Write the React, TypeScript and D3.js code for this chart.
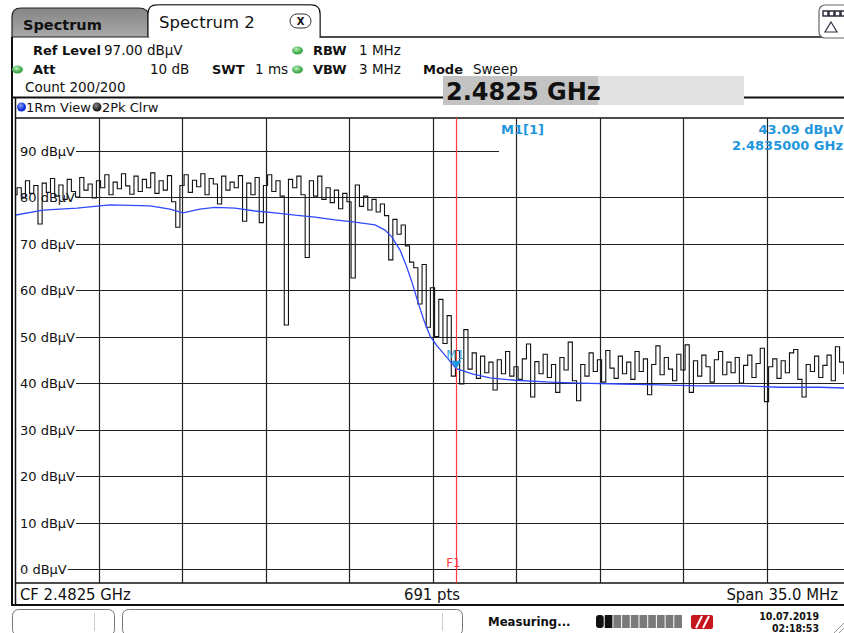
import { useEffect, useRef } from 'react';
import * as d3 from 'd3';

const WIDTH = 844;
const HEIGHT = 633;

// sweep settings (MHz / dBµV)
const startMHz = 2465;
const stopMHz = 2500;
const refLevel = 97;
const bottomLevel = -3;

const levelTicks = [90, 80, 70, 60, 50, 40, 30, 20, 10, 0];
const freqGrid = [2468.5, 2472, 2475.5, 2479, 2482.5, 2486, 2489.5, 2493, 2496.5];

// Trace 1 (RMS average, View) - blue
const rmsFreq = [
  2465.0, 2466.17, 2467.6, 2468.98, 2470.66, 2471.5, 2472.04, 2472.75, 2473.38, 2474.22,
  2475.06, 2475.9, 2476.74, 2477.58, 2478.41, 2479.25, 2480.09, 2480.51, 2480.8, 2481.14,
  2481.39, 2481.64, 2481.89, 2482.14, 2482.4, 2482.69, 2483.02, 2483.5, 2484.2, 2484.91,
  2485.96, 2487.43, 2488.68, 2490.36, 2492.04, 2493.71, 2495.39, 2497.07, 2498.74, 2500.0,
];
const rmsLevel = [
  76.1, 77.2, 77.6, 78.3, 78.1, 77.4, 76.6, 77.4, 77.8, 77.6,
  77.0, 76.6, 76.1, 75.7, 75.1, 74.6, 74.0, 72.9, 71.4, 68.6,
  65.4, 61.7, 57.4, 53.5, 50.1, 48.0, 46.0, 43.09, 41.9, 41.1,
  40.6, 40.2, 40.0, 39.8, 39.6, 39.4, 39.4, 39.1, 39.1, 38.9,
];

// Trace 2 (Max peak, Clear/Write) - black, evenly spaced over the span
const peakLevel = [
  80.5, 82.0, 79.8, 83.5, 80.8, 82.5, 74.2, 83.0, 81.0, 84.0,
  80.2, 82.6, 79.5, 83.8, 81.2, 80.0, 84.2, 81.5, 82.8, 79.8,
  83.5, 82.0, 84.8, 80.5, 83.2, 81.8, 85.0, 82.4, 80.6, 84.5,
  81.2, 83.8, 82.0, 85.2, 80.8, 83.5, 81.5, 84.6, 79.0, 73.5,
  82.5, 84.8, 81.0, 83.6, 82.2, 85.0, 80.5, 84.0, 82.8, 78.5,
  84.5, 81.5, 83.2, 82.0, 84.6, 74.8, 83.0, 80.5, 84.2, 74.5,
  82.5, 84.8, 81.2, 83.5, 80.2, 52.5, 83.8, 82.0, 84.5, 80.5,
  67.0, 83.5, 80.2, 84.5, 79.5, 82.0, 78.8, 81.5, 77.5, 80.8,
  79.0, 62.6, 82.6, 78.0, 80.2, 77.2, 79.5, 76.8, 78.5, 76.0,
  66.5, 75.2, 72.0, 74.0, 69.5, 66.0, 64.8, 57.0, 65.5, 52.0,
  60.5, 50.0, 58.0, 48.5, 54.5, 41.5, 47.0, 39.8, 51.5, 43.0,
  46.5, 41.0, 45.8, 42.2, 44.5, 38.5, 45.0, 42.0, 46.8, 41.5,
  43.5, 40.8, 45.2, 48.4, 37.0, 44.6, 42.0, 46.2, 41.2, 44.0,
  38.0, 45.5, 42.8, 48.8, 40.5, 36.2, 44.0, 41.5, 46.5, 42.5,
  45.0, 40.2, 47.0, 43.2, 41.0, 45.8, 42.0, 44.5, 40.8, 46.8,
  42.5, 45.2, 37.5, 44.0, 48.0, 41.8, 45.5, 43.0, 40.5, 46.2,
  42.8, 48.2, 38.0, 44.8, 41.5, 46.0, 43.5, 40.2, 45.0, 46.8,
  41.8, 44.5, 42.2, 45.5, 40.0, 43.8, 46.0, 41.2, 44.2, 47.5,
  36.0, 43.5, 45.2, 41.0, 44.8, 42.2, 46.5, 47.2, 40.8, 37.0,
  44.0, 42.5, 45.8, 41.2, 43.8, 46.0, 40.5, 47.8, 44.5, 42.0,
  36.8,
];

// marker M1 and frequency line F1
const markerFreq = 2483.5;
const markerLevel = 43.09;
const f1Freq = 2483.5;

const FONT = '"DejaVu Sans", Verdana, sans-serif';
const COND = '"DejaVu Sans Condensed", "DejaVu Sans", sans-serif';

export default function App() {
  const svgRef = useRef<SVGSVGElement>(null);

  useEffect(() => {
    if (!svgRef.current) return;
    document.body.style.margin = '0';
    const svg = d3.select(svgRef.current);
    svg.selectAll('*').remove();

    const plot = { left: 15, right: 850, top: 118, bottom: 583 };
    const x = d3.scaleLinear().domain([startMHz, stopMHz]).range([plot.left, plot.right]);
    const y = d3.scaleLinear().domain([bottomLevel, refLevel]).range([plot.bottom, plot.top]);

    svg.append('rect').attr('width', WIDTH).attr('height', HEIGHT).attr('fill', '#fff');

    const defs = svg.append('defs');
    const tabGrad = defs.append('linearGradient').attr('id', 'tabg').attr('x1', 0).attr('x2', 0).attr('y1', 0).attr('y2', 1);
    tabGrad.append('stop').attr('offset', '0%').attr('stop-color', '#858585');
    tabGrad.append('stop').attr('offset', '100%').attr('stop-color', '#a9a9a9');
    const greenGrad = defs.append('radialGradient').attr('id', 'greeng').attr('cx', '40%').attr('cy', '35%');
    greenGrad.append('stop').attr('offset', '0%').attr('stop-color', '#b6efb6');
    greenGrad.append('stop').attr('offset', '100%').attr('stop-color', '#3fa84a');
    const blueGrad = defs.append('radialGradient').attr('id', 'blueg').attr('cx', '40%').attr('cy', '35%');
    blueGrad.append('stop').attr('offset', '0%').attr('stop-color', '#8aa0ff');
    blueGrad.append('stop').attr('offset', '100%').attr('stop-color', '#0a2bd8');
    const darkGrad = defs.append('radialGradient').attr('id', 'darkg').attr('cx', '40%').attr('cy', '35%');
    darkGrad.append('stop').attr('offset', '0%').attr('stop-color', '#888');
    darkGrad.append('stop').attr('offset', '100%').attr('stop-color', '#222');
    defs.append('clipPath').attr('id', 'plotclip')
      .append('rect')
      .attr('x', plot.left + 1).attr('y', plot.top + 1)
      .attr('width', plot.right - plot.left - 1).attr('height', plot.bottom - plot.top - 1);

    // === tabs ===
    svg.append('path')
      .attr('d', 'M12 37 L12 17 Q12 8 21 8 L139 8 Q148 8 149 16 L149 37 Z')
      .attr('fill', 'url(#tabg)').attr('stroke', '#222').attr('stroke-width', 1.2);
    svg.append('text').attr('x', 23).attr('y', 30).attr('font-family', FONT)
      .attr('font-weight', 'bold').attr('font-size', 14.5).attr('fill', '#111').text('Spectrum');
    svg.append('path')
      .attr('d', 'M148 37 L148 14 Q148 5 157 5 L311 5 Q320 5 320 14 L320 37 L844 37')
      .attr('fill', 'none').attr('stroke', '#111').attr('stroke-width', 1.5);
    svg.append('path').attr('d', 'M148.6 37 L148.6 14 Q148.6 5.6 157 5.6 L311 5.6 Q319.4 5.6 319.4 14 L319.4 37.5 Z')
      .attr('fill', '#fff');
    svg.append('text').attr('x', 159).attr('y', 28).attr('font-family', FONT)
      .attr('font-size', 16.5).attr('fill', '#111').text('Spectrum 2');
    svg.append('rect').attr('x', 290).attr('y', 14).attr('width', 21).attr('height', 14).attr('rx', 7)
      .attr('fill', '#fff').attr('stroke', '#333').attr('stroke-width', 1);
    svg.append('text').attr('x', 300.5).attr('y', 25).attr('text-anchor', 'middle').attr('font-family', FONT)
      .attr('font-weight', 'bold').attr('font-size', 10).attr('fill', '#111').text('X');

    // top right toolbar icon
    svg.append('rect').attr('x', 819).attr('y', 5).attr('width', 40).attr('height', 33).attr('rx', 6)
      .attr('fill', '#fff').attr('stroke', '#666').attr('stroke-width', 1.2);
    [823, 829, 835, 841].forEach((bx) => {
      svg.append('rect').attr('x', bx).attr('y', 11).attr('width', 5).attr('height', 5)
        .attr('fill', '#fff').attr('stroke', '#223').attr('stroke-width', 1.4);
    });
    svg.append('path').attr('d', 'M831 22 L837 32 L825 32 Z').attr('fill', 'none')
      .attr('stroke', '#334').attr('stroke-width', 1.2);

    // === frame lines ===
    svg.append('line').attr('x1', 12).attr('x2', 12).attr('y1', 37).attr('y2', 606)
      .attr('stroke', '#111').attr('stroke-width', 2);
    svg.append('line').attr('x1', 15.5).attr('x2', 15.5).attr('y1', 97).attr('y2', 606)
      .attr('stroke', '#111').attr('stroke-width', 1.5);
    svg.append('line').attr('x1', 12).attr('x2', 443).attr('y1', 97.5).attr('y2', 97.5)
      .attr('stroke', '#111').attr('stroke-width', 2);
    svg.append('line').attr('x1', 744).attr('x2', 844).attr('y1', 97.5).attr('y2', 97.5)
      .attr('stroke', '#111').attr('stroke-width', 2);
    svg.append('line').attr('x1', 15).attr('x2', 844).attr('y1', plot.top).attr('y2', plot.top)
      .attr('stroke', '#111').attr('stroke-width', 1.5);
    svg.append('line').attr('x1', 15).attr('x2', 844).attr('y1', plot.bottom).attr('y2', plot.bottom)
      .attr('stroke', '#111').attr('stroke-width', 1.5);
    svg.append('line').attr('x1', 12).attr('x2', 844).attr('y1', 605).attr('y2', 605)
      .attr('stroke', '#111').attr('stroke-width', 2);

    // === header settings ===
    const header = svg.append('g').attr('font-family', FONT).attr('fill', '#111');
    const hText = (tx: number, ty: number, s: string, bold = false) =>
      header.append('text').attr('x', tx).attr('y', ty)
        .attr('font-size', bold ? 13 : 13.5)
        .attr('font-weight', bold ? 'bold' : 'normal').text(s);
    hText(33, 55, 'Ref Level', true);
    hText(104, 55, '97.00 dBµV');
    hText(33, 74, 'Att', true);
    hText(150, 74, '10 dB');
    hText(212, 74, 'SWT', true);
    hText(255, 74, '1 ms');
    hText(313, 55, 'RBW', true);
    hText(359, 55, '1 MHz');
    hText(313, 74, 'VBW', true);
    hText(359, 74, '3 MHz');
    hText(25, 92, 'Count 200/200');
    hText(423, 74, 'Mode', true);
    hText(473, 74, 'Sweep');
    [[17.5, 69.5], [297.5, 50.5], [297.5, 69.5]].forEach(([cx, cy]) => {
      svg.append('ellipse').attr('cx', cx).attr('cy', cy).attr('rx', 5.5).attr('ry', 4)
        .attr('fill', 'url(#greeng)');
    });

    // centre frequency entry box
    svg.append('rect').attr('x', 443).attr('y', 76).attr('width', 301).attr('height', 29).attr('fill', '#e2e2e2');
    svg.append('rect').attr('x', 443).attr('y', 76).attr('width', 155).attr('height', 29).attr('fill', '#c3c3c3');
    svg.append('text').attr('x', 446).attr('y', 100).attr('font-family', FONT).attr('font-weight', 'bold')
      .attr('font-size', 24).attr('fill', '#111').text('2.4825 GHz');

    // trace legend row
    svg.append('circle').attr('cx', 21.5).attr('cy', 107).attr('r', 4.5).attr('fill', 'url(#blueg)');
    svg.append('text').attr('x', 26).attr('y', 111.5).attr('font-family', FONT).attr('font-size', 13)
      .attr('fill', '#111').text('1Rm View');
    svg.append('circle').attr('cx', 97).attr('cy', 107).attr('r', 4.5).attr('fill', 'url(#darkg)');
    svg.append('text').attr('x', 102).attr('y', 111.5).attr('font-family', FONT).attr('font-size', 13)
      .attr('fill', '#111').text('2Pk Clrw');

    // === grid ===
    const grid = svg.append('g');
    freqGrid.forEach((f) => {
      grid.append('line')
        .attr('x1', Math.round(x(f)) + 0.5).attr('x2', Math.round(x(f)) + 0.5)
        .attr('y1', plot.top).attr('y2', plot.bottom)
        .attr('stroke', '#222').attr('stroke-width', 1.2);
    });
    levelTicks.forEach((v) => {
      const yy = Math.round(y(v)) + 0.5;
      const label = grid.append('text')
        .attr('x', 20).attr('y', yy + 4.5)
        .attr('font-family', FONT).attr('font-size', 13).attr('fill', '#111')
        .text(`${v} dBµV`);
      const len = (label.node() as SVGTextElement).getComputedTextLength();
      grid.append('line')
        .attr('x1', 20 + len + 1).attr('x2', v === 90 ? 499 : 844)
        .attr('y1', yy).attr('y2', yy)
        .attr('stroke', '#222').attr('stroke-width', 1.2);
    });

    // === traces ===
    const traces = svg.append('g').attr('clip-path', 'url(#plotclip)');
    const step = (stopMHz - startMHz) / (peakLevel.length - 1);
    const peakLine = d3.line<number>()
      .x((_, i) => x(startMHz + i * step))
      .y((d) => y(d))
      .curve(d3.curveStep);
    traces.append('path')
      .attr('d', peakLine(peakLevel) as string)
      .attr('fill', 'none').attr('stroke', '#111').attr('stroke-width', 1.1);

    const rmsLine = d3.line<number>()
      .x((_, i) => x(rmsFreq[i]))
      .y((d) => y(d));
    traces.append('path')
      .attr('d', rmsLine(rmsLevel) as string)
      .attr('fill', 'none').attr('stroke', '#2f48ff').attr('stroke-width', 1.3);

    // F1 line
    const fx = Math.round(x(f1Freq)) + 0.5;
    svg.append('line').attr('x1', fx).attr('x2', fx).attr('y1', plot.top).attr('y2', plot.bottom)
      .attr('stroke', '#ff3b3b').attr('stroke-width', 1.2);
    svg.append('text').attr('x', fx - 3).attr('y', 567).attr('text-anchor', 'middle')
      .attr('font-family', FONT).attr('font-size', 12).attr('fill', '#ff3b3b').text('F1');

    // marker M1
    const mx = x(markerFreq);
    const my = y(markerLevel);
    svg.append('path')
      .attr('d', `M${mx - 5},${my - 8} L${mx + 5},${my - 8} L${mx},${my} Z`)
      .attr('fill', '#1f96e0');
    svg.append('text').attr('x', mx - 10).attr('y', my - 10)
      .attr('font-family', FONT).attr('font-size', 12).attr('fill', '#3aa6e6').text('M1');

    // marker readout
    const mk = svg.append('g').attr('font-family', FONT).attr('font-weight', 'bold')
      .attr('font-size', 13).attr('fill', '#1f96dc');
    mk.append('text').attr('x', 501).attr('y', 134).text('M1[1]');
    mk.append('text').attr('x', 843).attr('y', 134).attr('text-anchor', 'end')
      .text(`${markerLevel.toFixed(2)} dBµV`);
    mk.append('text').attr('x', 843).attr('y', 150).attr('text-anchor', 'end')
      .text(`${(markerFreq / 1000).toFixed(7)} GHz`);

    // === bottom info bar ===
    const bar = svg.append('g').attr('font-family', COND).attr('font-stretch', 'condensed')
      .attr('font-size', 16.5).attr('fill', '#111');
    bar.append('text').attr('x', 20).attr('y', 600).text('CF 2.4825 GHz');
    bar.append('text').attr('x', 432).attr('y', 600).attr('text-anchor', 'middle')
      .text(`${691} pts`);
    bar.append('text').attr('x', 838).attr('y', 600).attr('text-anchor', 'end').text('Span 35.0 MHz');

    // === status bar ===
    svg.append('rect').attr('x', 12.5).attr('y', 609.5).attr('width', 102).attr('height', 26).attr('rx', 6)
      .attr('fill', '#fff').attr('stroke', '#777');
    svg.append('line').attr('x1', 94.5).attr('x2', 94.5).attr('y1', 613).attr('y2', 631).attr('stroke', '#ccc');
    svg.append('rect').attr('x', 122.5).attr('y', 609.5).attr('width', 340).attr('height', 26).attr('rx', 6)
      .attr('fill', '#fff').attr('stroke', '#777');
    svg.append('line').attr('x1', 442.5).attr('x2', 442.5).attr('y1', 613).attr('y2', 631).attr('stroke', '#ccc');
    svg.append('text').attr('x', 488).attr('y', 626).attr('font-family', COND).attr('font-stretch', 'condensed')
      .attr('font-weight', 'bold').attr('font-size', 13).attr('fill', '#111').text('Measuring...');
    d3.range(10).forEach((k) => {
      svg.append('rect').attr('x', 596 + k * 8.7).attr('y', 615).attr('width', 7.7).attr('height', 13)
        .attr('rx', k === 0 ? 3 : 0)
        .attr('fill', k < 2 ? '#111' : '#7a7a7a');
    });
    svg.append('rect').attr('x', 691).attr('y', 615).attr('width', 22).attr('height', 14).attr('rx', 2)
      .attr('fill', '#c4161c');
    svg.append('path').attr('d', 'M696 628 L702 616 M703 628 L709 616').attr('stroke', '#fff').attr('stroke-width', 2);
    const clock = svg.append('g').attr('font-family', COND).attr('font-stretch', 'condensed')
      .attr('font-weight', 'bold').attr('font-size', 10.5).attr('fill', '#111').attr('text-anchor', 'end');
    clock.append('text').attr('x', 819).attr('y', 620).text('10.07.2019');
    clock.append('text').attr('x', 819).attr('y', 632).text('02:18:53');
    svg.append('path').attr('d', 'M834 633 L844 623 M839 633 L844 628').attr('stroke', '#999').attr('stroke-width', 1);
  }, []);

  return (
    <div style={{ position: 'absolute', left: 0, top: 0 }}>
      <svg ref={svgRef} width={WIDTH} height={HEIGHT} style={{ display: 'block' }} />
    </div>
  );
}
